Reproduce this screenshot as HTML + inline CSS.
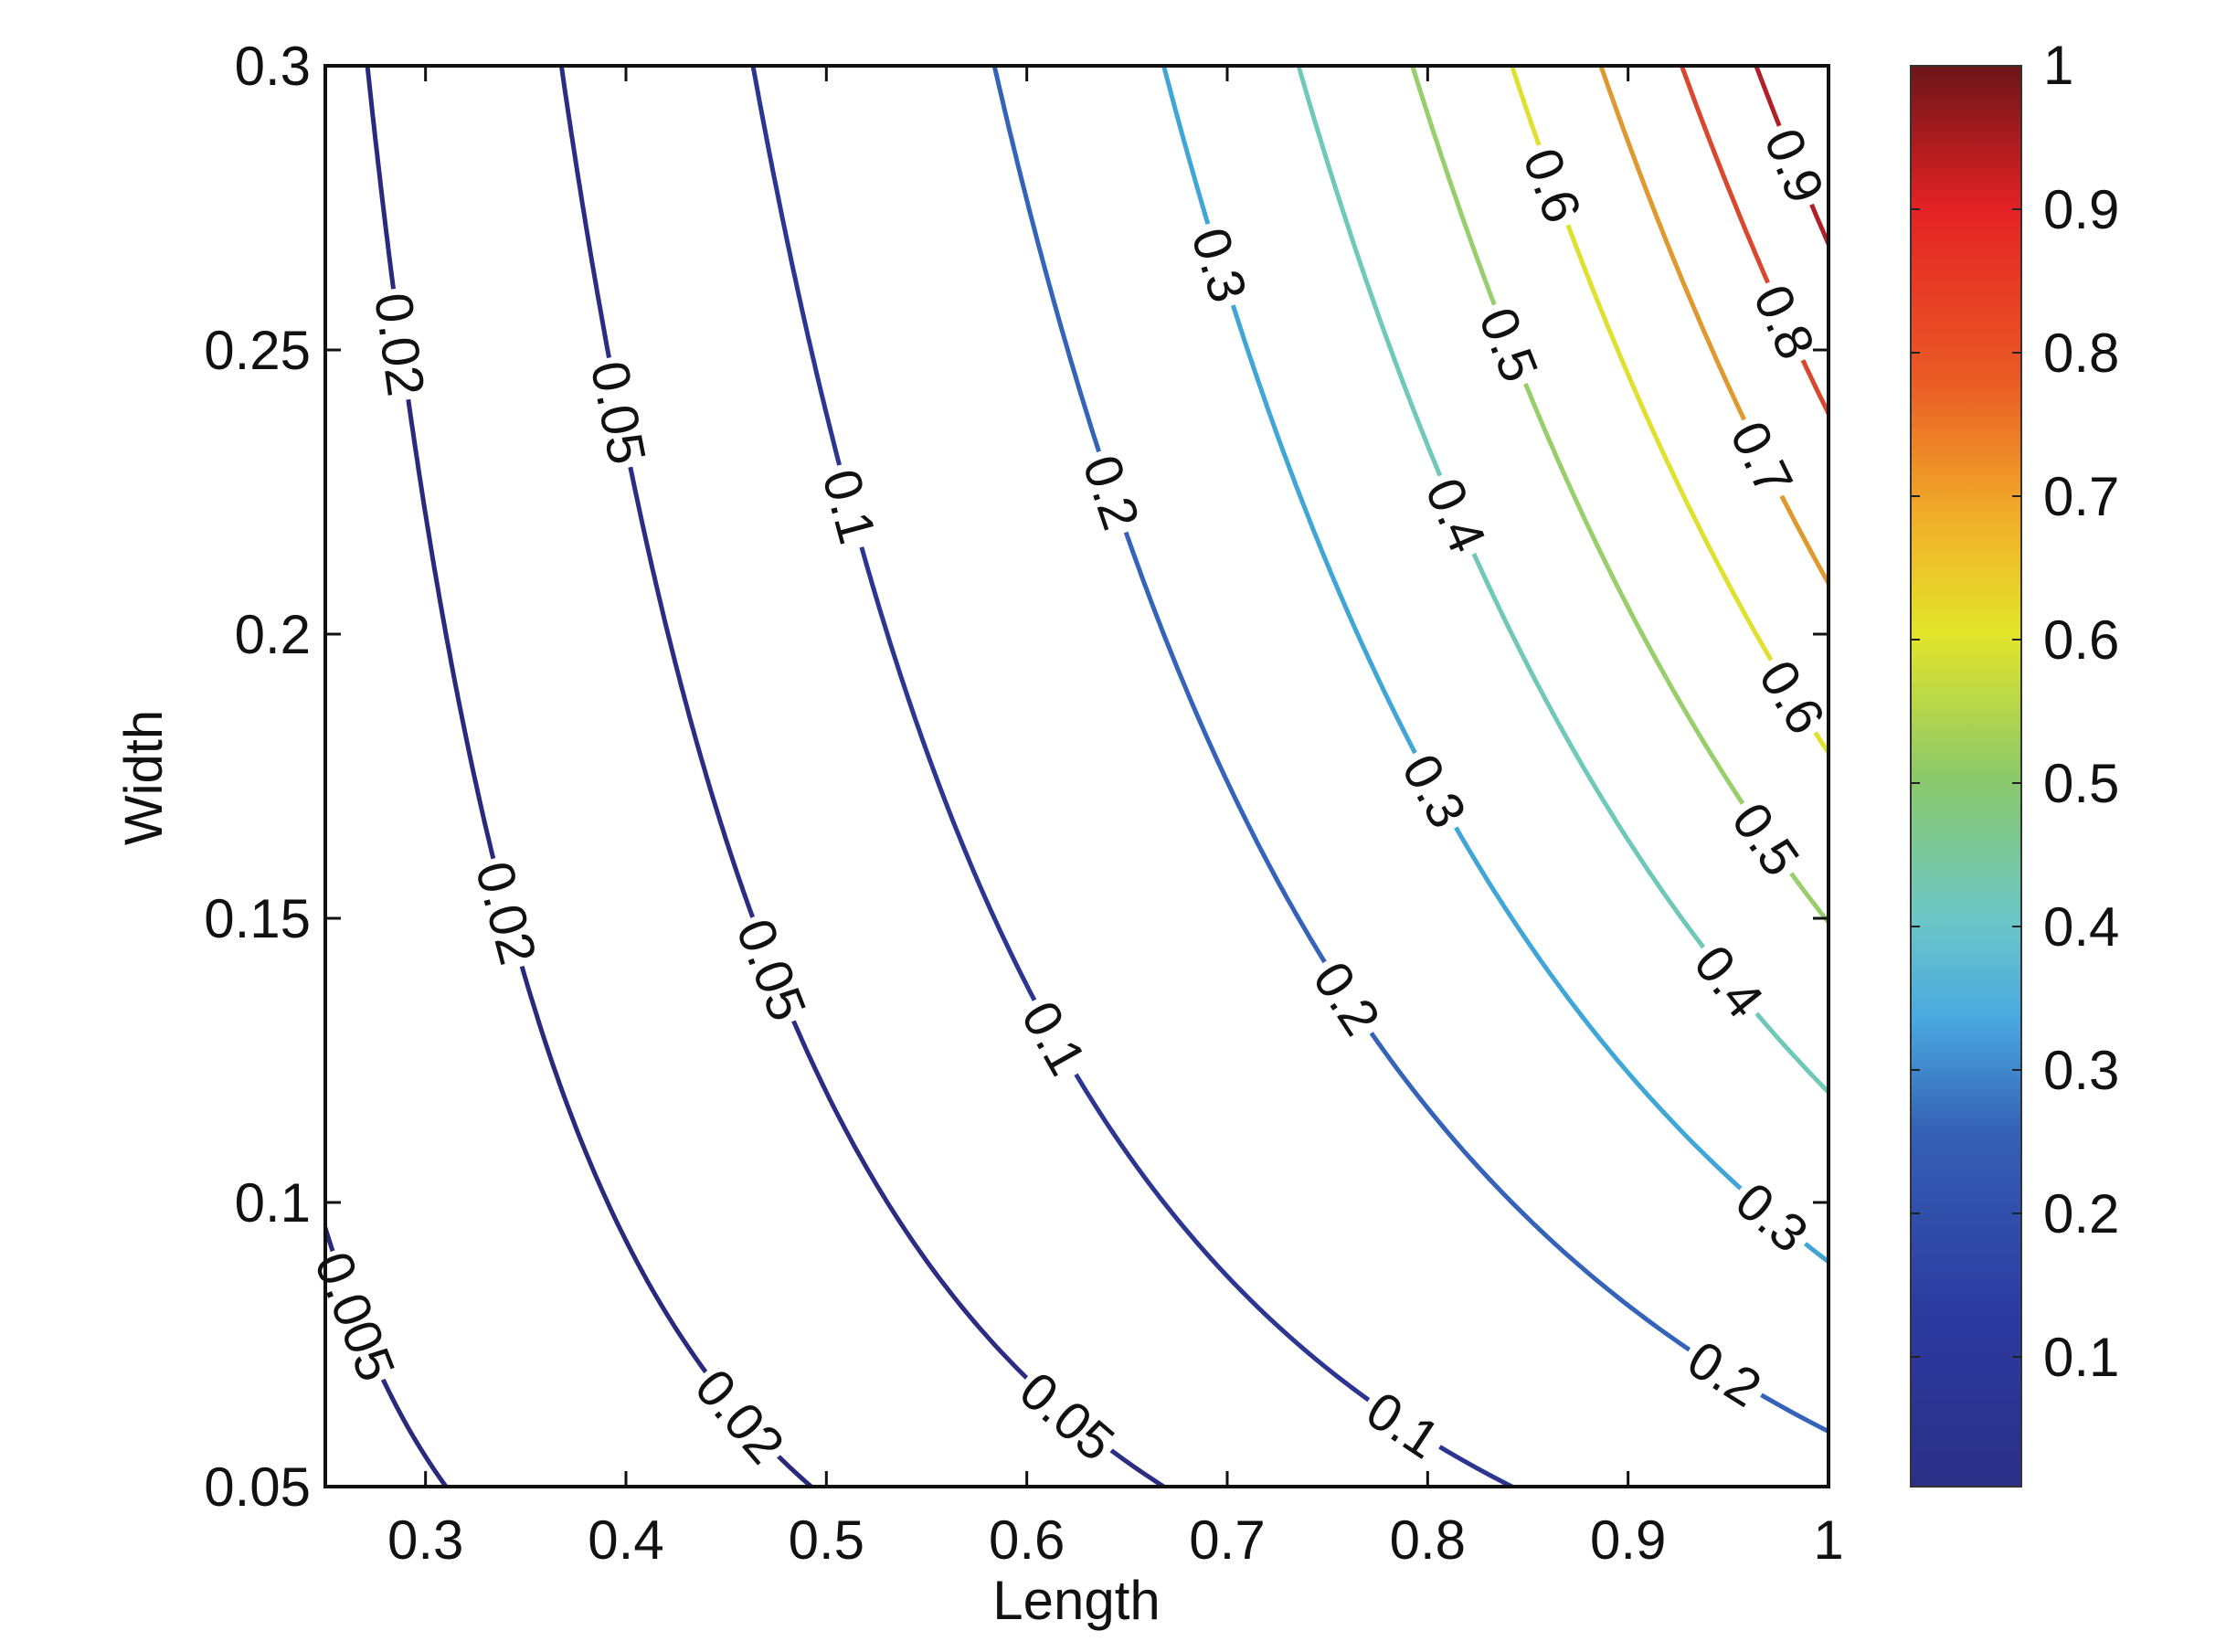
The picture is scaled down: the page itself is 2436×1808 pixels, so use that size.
<!DOCTYPE html>
<html><head><meta charset="utf-8"><style>
html,body{margin:0;padding:0;background:#fff;}
svg{display:block;}
text{font-family:"Liberation Sans",Arial,sans-serif;fill:#111;}
</style></head><body>
<svg id="s" width="2436" height="1808" viewBox="0 0 2436 1808" xmlns="http://www.w3.org/2000/svg">
<defs>
<linearGradient id="jet" x1="0" y1="1" x2="0" y2="0">
<stop offset="0" stop-color="#2b2f86"/>
<stop offset="0.12" stop-color="#2c3aa0"/>
<stop offset="0.25" stop-color="#3560b5"/>
<stop offset="0.33" stop-color="#4aa9e0"/>
<stop offset="0.40" stop-color="#6cc7c6"/>
<stop offset="0.50" stop-color="#8cc86a"/>
<stop offset="0.60" stop-color="#e2e52a"/>
<stop offset="0.68" stop-color="#f0b02a"/>
<stop offset="0.78" stop-color="#ea5a25"/>
<stop offset="0.90" stop-color="#e32225"/>
<stop offset="1" stop-color="#6c1519"/>
</linearGradient>
<clipPath id="cp"><rect x="356" y="72" width="1645" height="1555"/></clipPath>
</defs>
<g id="lines" clip-path="url(#cp)"></g>
<g id="labels"></g>
<rect x="356" y="72" width="1645" height="1555" fill="none" stroke="#111" stroke-width="4"/>
<g id="ticks" stroke="#111" stroke-width="3"></g>
<g id="tl" font-size="60"></g>
<rect x="2091" y="72" width="121" height="1555" fill="url(#jet)" stroke="#333" stroke-width="2"/>
<g id="cbt" stroke="#222" stroke-width="2"></g>
<text x="1178" y="1772" font-size="60" text-anchor="middle">Length</text>
<text transform="translate(177,851) rotate(-90)" font-size="58" text-anchor="middle">Width</text>
</svg>
<script>
var NS="http://www.w3.org/2000/svg";
function el(t,a,p,txt){var e=document.createElementNS(NS,t);for(var k in a)e.setAttribute(k,a[k]);if(txt!==undefined)e.textContent=txt;p.appendChild(e);return e;}
function X(L){return 356+(L-0.25)/0.75*1645;}
function Y(W){return 72+(0.3-W)/0.25*1555;}
var C=3.35;
function Lof(v,W){return Math.pow(v/(C*W),1/3);}
var cols={0.005:"#2a2a7c",0.02:"#2a2a7c",0.05:"#2b2d82",0.1:"#2c3690",0.2:"#3563b8",0.3:"#40a6d6",0.4:"#70c9b8",0.5:"#98cf6c",0.6:"#dfe030",0.7:"#de9a30",0.8:"#d8482c",0.9:"#b02028"};
var g=document.getElementById("lines");
for(var v in cols){var d="";for(var i=0;i<=200;i++){var W=0.04+i*(0.27/200);var L=Lof(+v,W);d+=(i?"L":"M")+X(L).toFixed(1)+" "+Y(W).toFixed(1);}
el("path",{d:d,fill:"none",stroke:cols[v],"stroke-width":5},g);}
var labs=[[0.005,0.08,"0.005"],[0.02,0.251],[0.02,0.151],[0.02,0.0625],[0.05,0.239],[0.05,0.141],[0.05,0.0625],[0.1,0.2225],[0.1,0.129],[0.1,0.061],[0.2,0.225],[0.2,0.136],[0.2,0.07],[0.3,0.265],[0.3,0.1725],[0.3,0.0975],[0.4,0.221],[0.4,0.139],[0.5,0.251],[0.5,0.164],[0.6,0.279],[0.6,0.189],[0.7,0.231],[0.8,0.255],[0.9,0.2825]];
var lg=document.getElementById("labels");
labs.forEach(function(a){var v=a[0],W=a[1];var L=Lof(v,W);var x=X(L),y=Y(W);
var dx=2193*L/(3*W),dy=6220;var ang=Math.atan2(dy,dx)*180/Math.PI;
var t=a[2]||String(v);var w=t.length*0.5*58+6;
var gg=el("g",{transform:"translate("+x.toFixed(1)+","+y.toFixed(1)+") rotate("+ang.toFixed(1)+")"},lg);
el("rect",{x:-w/2,y:-22,width:w,height:44,fill:"#fff"},gg);
el("text",{x:0,y:21,"font-size":58,"text-anchor":"middle"},gg,t);});
var tk=document.getElementById("ticks"),tl=document.getElementById("tl");
[0.3,0.4,0.5,0.6,0.7,0.8,0.9,1].forEach(function(L){var x=X(L);
el("line",{x1:x,y1:1627,x2:x,y2:1610},tk);el("line",{x1:x,y1:72,x2:x,y2:89},tk);
el("text",{x:x,y:1706,"text-anchor":"middle"},tl,L==1?"1":String(L));});
[0.05,0.1,0.15,0.2,0.25,0.3].forEach(function(W){var y=Y(W);
el("line",{x1:356,y1:y,x2:373,y2:y},tk);el("line",{x1:2001,y1:y,x2:1984,y2:y},tk);
el("text",{x:340,y:y+21,"text-anchor":"end"},tl,String(W));});
var cb=document.getElementById("cbt");
for(var i=1;i<=10;i++){var v=i/10;var y=72+(1-v)*1570;
if(i<10){el("line",{x1:2091,y1:y,x2:2101,y2:y},cb);el("line",{x1:2212,y1:y,x2:2202,y2:y},cb);}
el("text",{x:2236,y:(i==10?72+20:y+21)},tl,i==10?"1":String(v));}
</script>
</body></html>
